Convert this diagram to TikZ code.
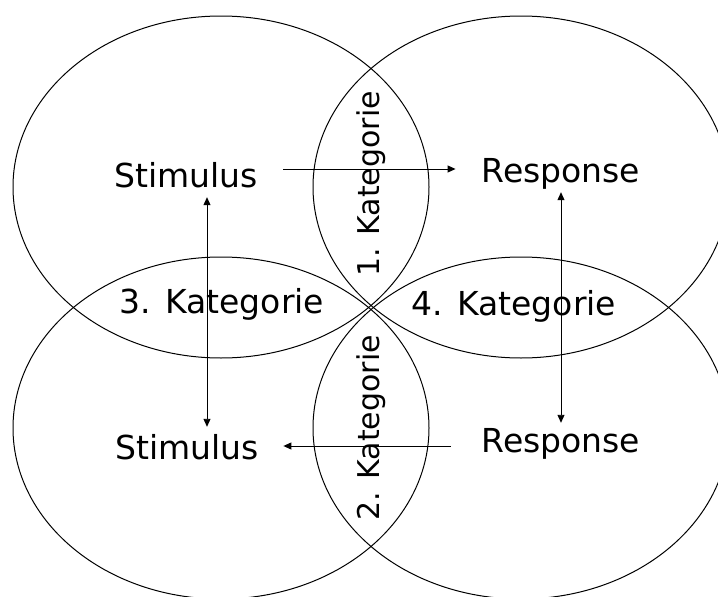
\documentclass[tikz,border=0pt]{standalone}
\usepackage{fontspec}
\setmainfont{DejaVu Sans}
\usepackage{tikz}
\usetikzlibrary{arrows.meta,shapes,positioning,calc}

\begin{document}
\begin{tikzpicture}[x=1pt, y=-1pt,
			field/.style={draw, ellipse, line width=1pt, minimum width=416pt, minimum height=342pt, inner sep=0pt},
			label/.style={font=\fontsize{33}{36}\selectfont, inner sep=0pt, text height=24pt, text depth=8pt, anchor=base},
			category/.style={label, font=\fontsize{30}{34}\selectfont},
			arrowStrong/.style={line width=0.9pt, -{Triangle[length=8pt,width=7pt]}},
			arrowBoth/.style={line width=0.9pt, {Triangle[length=8pt,width=7pt]}-{Triangle[length=8pt,width=7pt]}},
			]
			\useasboundingbox (0,0) rectangle (718,597);
			\clip (0,0) rectangle (718,597);
			
			\draw node[field] (fieldTL) at (221,187) {};
			\draw node[field] (fieldTR) at (521,187) {};
			\draw node[field] (fieldBL) at (221,428) {};
			\draw node[field] (fieldBR) at (521,428) {};
			
			\draw node[label] (stimTop) at (186,187) {Stimulus};
			\draw node[label] (respTop) at (561,182) {Response};
			\draw node[label] (stimBot) at (187,459) {Stimulus};
			\draw node[label] (respBot) at (561,452) {Response};
			
			\draw node[label] (cat3) at (222,313) {3. Kategorie};
			\draw node[label] (cat4) at (514,315) {4. Kategorie};
			\draw node[category, rotate=90] (cat1) at (379,184) {1. Kategorie};
			\draw node[category, rotate=90] (cat2) at (379,428) {2. Kategorie};
			
			% Arrow
			\draw [arrowStrong, shorten <=25.5pt, shorten >=26pt] ([yshift=10pt]stimTop.east) -- ([yshift=5pt]respTop.west);
			\draw [arrowStrong, shorten <=31pt, shorten >=24.5pt] ([yshift=-2pt]respBot.west) -- ([yshift=5pt]stimBot.east);
			\draw [arrowBoth, shorten <=2pt, shorten >=8pt] ([xshift=21pt]stimTop.south) -- ([xshift=20pt]stimBot.north);
			\draw [arrowBoth, shorten <=2pt, shorten >=5pt] (respTop.south) -- (respBot.north);
			
		\end{tikzpicture}
\end{document}
